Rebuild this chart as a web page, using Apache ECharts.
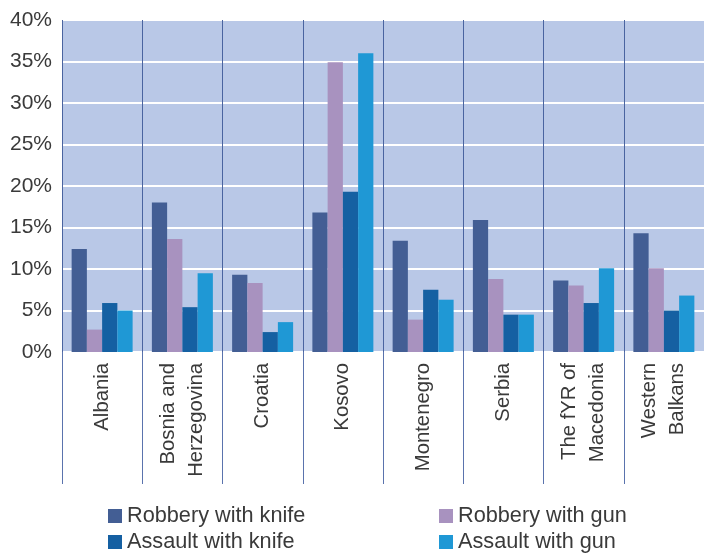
<!DOCTYPE html>
<html>
<head>
<meta charset="utf-8">
<script src="https://cdn.jsdelivr.net/npm/echarts@6/dist/echarts.min.js"></script>
<style>html,body{margin:0;padding:0;background:#fff}#c{width:704px;height:554px}</style>
</head>
<body>
<div id="c"></div>
<script>
const categories = ['Albania', 'Bosnia and\nHerzegovina', 'Croatia', 'Kosovo', 'Montenegro', 'Serbia', 'The fYR of\nMacedonia', 'Western\nBalkans'];
const robberyKnife = [12.4, 18.0, 9.3, 16.8, 13.4, 15.9, 8.6, 14.3];
const robberyGun = [2.7, 13.6, 8.3, 34.9, 3.9, 8.8, 8.0, 10.1];
const assaultKnife = [5.9, 5.4, 2.4, 19.3, 7.5, 4.5, 5.9, 5.0];
const assaultGun = [5.0, 9.5, 3.6, 36.0, 6.3, 4.5, 10.1, 6.8];
const seriesNames = ['Robbery with knife', 'Robbery with gun', 'Assault with knife', 'Assault with gun'];
const colors = ['#435e94', '#a892bf', '#1560a2', '#1f98d5'];
const yTicks = { min: 0, max: 40, interval: 5 };

const FONT = 'Liberation Sans, Arial, sans-serif';
const TEXT = '#3a3a3a';
const chart = echarts.init(document.getElementById('c'));
const dataSets = [robberyKnife, robberyGun, assaultKnife, assaultGun];

function legendAt(name, left, top) {
  return {
    data: [name], left: left, top: top, padding: 0,
    itemWidth: 14, itemHeight: 14, itemGap: 0, icon: 'rect',
    textStyle: { fontFamily: FONT, fontSize: 21.7, color: TEXT },
    selectedMode: false
  };
}

chart.setOption({
  animation: false,
  color: colors,
  grid: { left: 62, right: 0, top: 20, bottom: 202, show: true, backgroundColor: '#b9c8e7', borderWidth: 0 },
  legend: [
    legendAt(seriesNames[0], 108, 505),
    legendAt(seriesNames[1], 439, 505),
    legendAt(seriesNames[2], 108, 531),
    legendAt(seriesNames[3], 439, 531)
  ],
  xAxis: {
    type: 'category',
    data: categories,
    axisLine: { show: false },
    axisTick: { show: true, length: 132, lineStyle: { color: '#5a73ad', width: 1 } },
    splitLine: { show: true, lineStyle: { color: '#4a64a0', width: 1 } },
    axisLabel: {
      rotate: 90, margin: 11, interval: 0,
      fontFamily: FONT, fontSize: 20.3, color: TEXT, lineHeight: 28, align: 'right'
    }
  },
  yAxis: {
    type: 'value',
    min: yTicks.min, max: yTicks.max, interval: yTicks.interval,
    axisLine: { show: false }, axisTick: { show: false },
    splitLine: { show: true, lineStyle: { color: '#ffffff', width: 2 } },
    axisLabel: { formatter: '{value}%', fontFamily: FONT, fontSize: 21, color: TEXT, margin: 10 }
  },
  series: seriesNames.map((n, i) => ({
    name: n, type: 'bar', data: dataSets[i],
    barGap: '0%', barCategoryGap: '24%',
    itemStyle: { color: colors[i] }
  }))
});
</script>
</body>
</html>
